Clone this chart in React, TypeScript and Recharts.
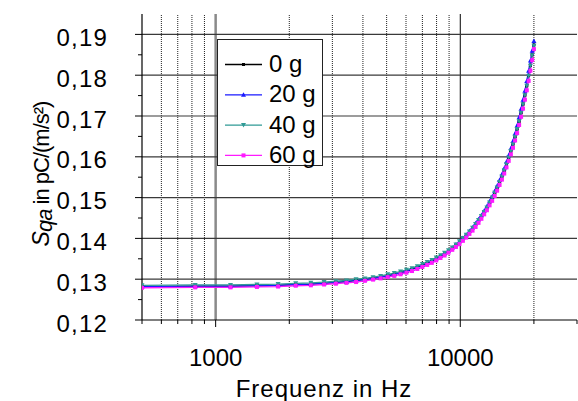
import React from 'react';
import { LineChart, Line, XAxis, YAxis, ReferenceLine } from 'recharts';

const FONT = '"Liberation Sans", Arial, sans-serif';

const freq = [500, 825, 1150, 1475, 1800, 2125, 2450, 2775, 3100, 3425, 3750, 4075, 4400, 4725, 5050, 5375, 5700, 6025, 6350, 6675, 7000, 7325, 7650, 7975, 8300, 8625, 8950, 9275, 9600, 9925, 10250, 10575, 10900, 11225, 11550, 11875, 12200, 12525, 12850, 13175, 13500, 13825, 14150, 14475, 14800, 15125, 15450, 15775, 16100, 16425, 16750, 17075, 17400, 17725, 18050, 18375, 18700, 19025, 19350, 19675, 20000];

const s0g = [0.1282, 0.1283, 0.1283, 0.1284, 0.1285, 0.1287, 0.1288, 0.1290, 0.1292, 0.1294, 0.1297, 0.1299, 0.1302, 0.1305, 0.1309, 0.1312, 0.1316, 0.1320, 0.1324, 0.1329, 0.1334, 0.1339, 0.1344, 0.1350, 0.1356, 0.1362, 0.1369, 0.1376, 0.1383, 0.1391, 0.1399, 0.1407, 0.1415, 0.1424, 0.1434, 0.1444, 0.1454, 0.1464, 0.1475, 0.1487, 0.1499, 0.1511, 0.1524, 0.1538, 0.1552, 0.1566, 0.1582, 0.1597, 0.1614, 0.1631, 0.1649, 0.1668, 0.1687, 0.1708, 0.1729, 0.1751, 0.1774, 0.1799, 0.1824, 0.1850, 0.1874];

const s20g = [0.1282, 0.1283, 0.1283, 0.1284, 0.1285, 0.1287, 0.1288, 0.1290, 0.1292, 0.1294, 0.1297, 0.1299, 0.1302, 0.1305, 0.1309, 0.1312, 0.1316, 0.1320, 0.1325, 0.1330, 0.1335, 0.1340, 0.1345, 0.1351, 0.1357, 0.1363, 0.1370, 0.1377, 0.1385, 0.1393, 0.1401, 0.1409, 0.1418, 0.1427, 0.1437, 0.1447, 0.1457, 0.1468, 0.1479, 0.1491, 0.1503, 0.1516, 0.1529, 0.1543, 0.1557, 0.1572, 0.1588, 0.1604, 0.1621, 0.1639, 0.1657, 0.1677, 0.1697, 0.1718, 0.1740, 0.1762, 0.1786, 0.1811, 0.1836, 0.1860, 0.1884];

const s40g = [0.1285, 0.1286, 0.1286, 0.1287, 0.1288, 0.1290, 0.1291, 0.1293, 0.1295, 0.1297, 0.1300, 0.1302, 0.1305, 0.1308, 0.1312, 0.1315, 0.1319, 0.1323, 0.1327, 0.1332, 0.1337, 0.1342, 0.1347, 0.1353, 0.1359, 0.1365, 0.1371, 0.1378, 0.1385, 0.1393, 0.1401, 0.1409, 0.1417, 0.1426, 0.1435, 0.1445, 0.1455, 0.1465, 0.1476, 0.1488, 0.1500, 0.1512, 0.1525, 0.1538, 0.1552, 0.1567, 0.1582, 0.1598, 0.1614, 0.1631, 0.1649, 0.1668, 0.1687, 0.1708, 0.1729, 0.1751, 0.1774, 0.1798, 0.1823, 0.1849, 0.1872];

const s60g = [0.1279, 0.1280, 0.1280, 0.1281, 0.1282, 0.1284, 0.1285, 0.1287, 0.1289, 0.1291, 0.1293, 0.1296, 0.1299, 0.1302, 0.1305, 0.1308, 0.1312, 0.1316, 0.1320, 0.1325, 0.1330, 0.1335, 0.1340, 0.1346, 0.1352, 0.1358, 0.1365, 0.1372, 0.1379, 0.1386, 0.1394, 0.1402, 0.1411, 0.1419, 0.1428, 0.1438, 0.1448, 0.1459, 0.1469, 0.1481, 0.1492, 0.1504, 0.1517, 0.1531, 0.1544, 0.1559, 0.1574, 0.1590, 0.1606, 0.1622, 0.1640, 0.1658, 0.1678, 0.1698, 0.1718, 0.1740, 0.1763, 0.1786, 0.1811, 0.1837, 0.1864];

const seriesNames = ['0 g', '20 g', '40 g', '60 g'];
const seriesColors = ['#000000', '#1a1aff', '#2f9a95', '#ff1aff'];
const seriesKeys = ['a', 'b', 'c', 'd'];

const xMajorTicks = [1000, 10000];
const xMinorTicks = [500, 600, 700, 800, 900, 2000, 3000, 4000, 5000, 6000, 7000, 8000, 9000, 20000, 30000];
const xMinorGrid = [600, 700, 800, 900, 2000, 3000, 4000, 5000, 6000, 7000, 8000, 9000, 20000];
const yMajorTicks = [0.12, 0.13, 0.14, 0.15, 0.16, 0.17, 0.18, 0.19];
const yMinorTicks = [0.125, 0.135, 0.145, 0.155, 0.165, 0.175, 0.185];
const yGrid = [0.13, 0.14, 0.15, 0.16, 0.17, 0.18, 0.19];

const data = freq.map((f, i) => ({ f, a: s0g[i], b: s20g[i], c: s40g[i], d: s60g[i] }));

const marker = (idx: number, cx: number, cy: number, color: string, key?: any) => {
  if (cx == null || cy == null) return <g key={key} />;
  if (idx === 0) return <rect key={key} x={cx - 1.5} y={cy - 1.5} width={3} height={3} fill={color} />;
  if (idx === 1) return <polygon key={key} points={`${cx},${cy - 2.5} ${cx + 2.5},${cy + 2} ${cx - 2.5},${cy + 2}`} fill={color} />;
  if (idx === 2) return <polygon key={key} points={`${cx},${cy + 2.5} ${cx + 2.5},${cy - 2} ${cx - 2.5},${cy - 2}`} fill={color} />;
  return <rect key={key} x={cx - 2} y={cy - 2} width={4} height={4} fill={color} />;
};

const XTick = (props: any) => {
  const { x, y, payload } = props;
  const v = payload.value;
  const major = xMajorTicks.includes(v);
  return (
    <g>
      <line x1={x} x2={x} y1={y} y2={y + (major ? 7 : 4)} stroke="#000" strokeWidth={1} />
      {major && (
        <text x={x} y={y + 46} textAnchor="middle" fontSize={24} fontFamily={FONT} fill="#000">
          {String(v)}
        </text>
      )}
    </g>
  );
};

const YTick = (props: any) => {
  const { x, y, payload } = props;
  const v = payload.value;
  const major = yMajorTicks.some((t) => Math.abs(t - v) < 1e-6);
  return (
    <g>
      <line x1={x - (major ? 7 : 4)} x2={x} y1={y} y2={y} stroke="#000" strokeWidth={1} />
      {major && (
        <text x={x - 34} y={y + 11.5} textAnchor="end" fontSize={24} letterSpacing={1.2} fontFamily={FONT} fill="#000">
          {v.toFixed(2).replace('.', ',')}
        </text>
      )}
    </g>
  );
};

const LegendBox = () => (
  <div style={{ position: 'absolute', left: 217, top: 39, width: 106, height: 127, boxSizing: 'border-box', border: '1.5px solid #222', background: '#fff' }}>
    <svg width={104} height={124} style={{ display: 'block', overflow: 'visible' }}>
      {seriesNames.map((n, i) => {
        const cy = 24.5 + i * 30.3;
        return (
          <g key={n}>
            <line x1={7} x2={44} y1={cy} y2={cy} stroke={seriesColors[i]} strokeWidth={1.3} />
            {marker(i, 25.5, cy, seriesColors[i])}
            <text x={51} y={cy + 7.5} fontSize={24} fontFamily={FONT} fill="#000">{n}</text>
          </g>
        );
      })}
    </svg>
  </div>
);

const YLabel = () => (
  <div
    style={{
      position: 'absolute',
      left: 41.3 - 150,
      top: 174 - 14,
      width: 300,
      height: 28,
      lineHeight: '28px',
      fontSize: 22,
      letterSpacing: -1,
      fontFamily: FONT,
      color: '#000',
      textAlign: 'center',
      whiteSpace: 'nowrap',
      transform: 'rotate(-90deg)',
    }}
  >
    <i style={{ fontSize: 23 }}>S</i>
    <i style={{ position: 'relative', top: 3 }}>qa</i>
    {' in pC/(m/s²)'}
  </div>
);

export default function App() {
  return (
    <div style={{ position: 'absolute', left: 0, top: 0, width: 578, height: 401, background: '#fff' }}>
      <LineChart width={578} height={401} data={data} margin={{ top: 14, right: 1, bottom: 0, left: 0 }}>
        <XAxis
          dataKey="f"
          type="number"
          scale="log"
          domain={[500, 30000]}
          allowDataOverflow
          ticks={[...xMinorTicks, ...xMajorTicks].sort((p, q) => p - q)}
          interval={0}
          tickSize={0}
          tickMargin={0}
          tickLine={false}
          tick={<XTick />}
          height={81}
          axisLine={{ stroke: '#000', strokeWidth: 1 }}
        />
        <YAxis
          type="number"
          domain={[0.12, 0.195]}
          allowDataOverflow
          ticks={[...yMajorTicks, ...yMinorTicks].sort((p, q) => p - q)}
          interval={0}
          tickSize={0}
          tickMargin={0}
          tickLine={false}
          tick={<YTick />}
          width={142}
          axisLine={{ stroke: '#000', strokeWidth: 1.2 }}
        />
        {xMinorGrid.map((f) => (
          <ReferenceLine key={'xm' + f} x={f} stroke="#222" strokeWidth={1} strokeDasharray="1 1" />
        ))}
        <ReferenceLine x={1000} stroke="#8a8a8a" strokeWidth={2.5} />
        <ReferenceLine x={10000} stroke="#000" strokeWidth={1} />
        {yGrid.map((v) => (
          <ReferenceLine key={'yg' + v} y={v} stroke="#3a3a3a" strokeWidth={1.2} />
        ))}
        {seriesKeys.map((k, i) => (
          <Line
            key={k}
            dataKey={k}
            type="linear"
            stroke={seriesColors[i]}
            strokeWidth={1.3}
            isAnimationActive={false}
            dot={(p: any) => marker(i, p.cx, p.cy, seriesColors[i], p.key ?? p.index)}
            activeDot={false}
          />
        ))}
        <text x={324} y={397} textAnchor="middle" fontSize={24} letterSpacing={1} fontFamily={FONT} fill="#000">
          Frequenz in Hz
        </text>
      </LineChart>
      <YLabel />
      <LegendBox />
    </div>
  );
}
